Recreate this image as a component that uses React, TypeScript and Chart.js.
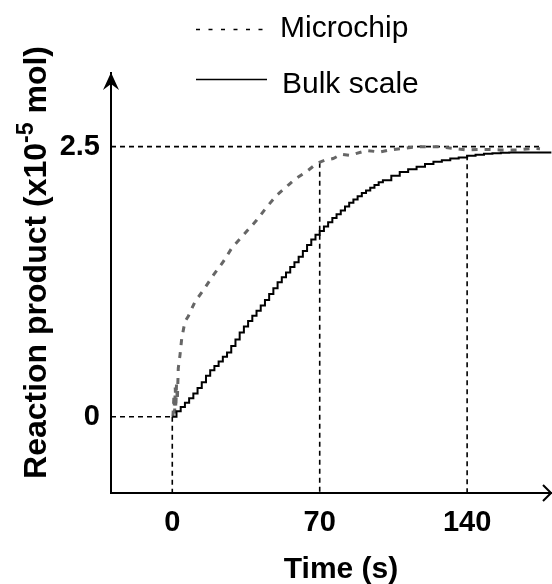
import { useEffect, useRef } from "react";
import { Chart, registerables } from "chart.js";

Chart.register(...registerables);

// ---------- data ----------
const SERIES_NAMES = ["Microchip", "Bulk scale"];
const X_TITLE = "Time (s)";
const Y_TITLE_MAIN = "Reaction product (x10";
const Y_TITLE_SUP = "-5";
const Y_TITLE_END = " mol)";

const X_TICKS = [0, 70, 140];
const X_TICK_LABELS = ["0", "70", "140"];
const Y_TICKS = [0, 2.5];
const Y_TICK_LABELS = ["0", "2.5"];

const X_MIN = -29.1;
const X_MAX = 180.3;
const Y_MIN = -0.7065;
const Y_MAX = 3.182;

// Bulk scale (solid staircase)
const bulkTime = [
  0, 2, 4, 6, 8, 10, 12, 14, 16, 18, 20, 22, 24, 26, 28, 30, 32, 34, 36, 38, 40,
  42, 44, 46, 48, 50, 52, 54, 56, 58, 60, 62, 64, 66, 68, 70, 72, 74, 76, 78, 80,
  82, 84, 86, 88, 90, 92, 94, 96, 98, 100,
  104, 108, 112, 116, 120, 124, 128, 132, 136, 140, 144, 148, 152, 156, 160,
  164, 168, 172, 176, 180,
];
const bulkValue = [
  0.0, 0.05, 0.09, 0.13, 0.17, 0.215, 0.265, 0.32, 0.38, 0.43, 0.47, 0.51, 0.555,
  0.595, 0.655, 0.715, 0.78, 0.835, 0.885, 0.935, 0.98, 1.03, 1.08, 1.135, 1.19,
  1.245, 1.29, 1.335, 1.385, 1.43, 1.48, 1.535, 1.59, 1.64, 1.685, 1.72, 1.76,
  1.8, 1.84, 1.875, 1.91, 1.945, 1.98, 2.01, 2.04, 2.07, 2.095, 2.12, 2.145,
  2.17, 2.19,
  2.23, 2.265, 2.29, 2.315, 2.34, 2.36, 2.375, 2.39, 2.4, 2.415, 2.425, 2.435,
  2.44, 2.443, 2.445, 2.445, 2.445, 2.445, 2.445, 2.445,
];

// Microchip (dashed, grey)
const microTime = [
  0.3, 0.8, 1.1, 1.4, 1.7, 2.0, 2.4, 2.85, 3.66, 4.46, 6.0, 7.6, 10.8, 14.7,
  19.5, 24.2, 28.2, 33.7, 40.1, 44.8, 49.6, 55.1, 58.3, 63.8, 68.6, 72.5, 76.4,
  80.4, 84.4, 92.3, 98.6, 103.3, 109.7, 117.6, 125.5, 133.4, 139.8, 147.7,
  155.6, 163.5, 171.4, 174.6,
];
const microValue = [
  0.0, 0.2, 0.03, 0.27, 0.08, 0.3, 0.15, 0.45, 0.57, 0.72, 0.88, 0.93, 1.065,
  1.17, 1.31, 1.435, 1.56, 1.68, 1.82, 1.94, 2.05, 2.145, 2.2, 2.27, 2.345,
  2.375, 2.39, 2.43, 2.42, 2.465, 2.45, 2.47, 2.485, 2.5, 2.5, 2.485, 2.47,
  2.475, 2.47, 2.47, 2.485, 2.48,
];

// Dashed guide lines
const PLATEAU = 2.5;
const PLATEAU_END = 175;
const guideTimes = [0, 70, 140];
const guideTops = [0, 2.35, 2.42];

// ---------- styling ----------
const FONT = "'Liberation Sans', Arial, Helvetica, sans-serif";

const decorPlugin = {
  id: "decor",
  afterDraw(chart: any) {
    const { ctx, chartArea: a } = chart;
    ctx.save();
    ctx.fillStyle = "#000";
    ctx.strokeStyle = "#000";

    // y-axis arrow head (filled, barbed)
    ctx.beginPath();
    ctx.moveTo(a.left, a.top - 0.5);
    ctx.lineTo(a.left + 8, a.top + 17);
    ctx.lineTo(a.left, a.top + 11);
    ctx.lineTo(a.left - 8, a.top + 17);
    ctx.closePath();
    ctx.fill();

    // x-axis arrow head (open chevron)
    ctx.lineWidth = 2;
    ctx.beginPath();
    ctx.moveTo(a.right - 9, a.bottom - 8);
    ctx.lineTo(a.right - 1, a.bottom);
    ctx.lineTo(a.right - 9, a.bottom + 8);
    ctx.stroke();

    // y title with superscript
    const mainFont = `bold 32px ${FONT}`;
    const supFont = `bold 23px ${FONT}`;
    ctx.font = mainFont;
    const w1 = ctx.measureText(Y_TITLE_MAIN).width;
    const w3 = ctx.measureText(Y_TITLE_END).width;
    ctx.font = supFont;
    const w2 = ctx.measureText(Y_TITLE_SUP).width;
    const total = w1 + w2 + w3;
    ctx.save();
    ctx.translate(a.left - 65, (a.top + a.bottom) / 2 - 20.5);
    ctx.rotate(-Math.PI / 2);
    ctx.textAlign = "left";
    ctx.textBaseline = "alphabetic";
    const s = -total / 2;
    ctx.font = mainFont;
    ctx.fillText(Y_TITLE_MAIN, s, 0);
    ctx.font = supFont;
    ctx.fillText(Y_TITLE_SUP, s + w1, -13);
    ctx.font = mainFont;
    ctx.fillText(Y_TITLE_END, s + w1 + w2, 0);
    ctx.restore();

    // x title
    ctx.font = `bold 30px ${FONT}`;
    ctx.textAlign = "center";
    ctx.textBaseline = "alphabetic";
    ctx.fillText(X_TITLE, (a.left + a.right) / 2 + 9.5, a.bottom + 85);

    // legend
    ctx.textAlign = "left";
    ctx.font = `30px ${FONT}`;
    ctx.lineWidth = 1.3;
    ctx.setLineDash([4, 8.5]);
    ctx.beginPath();
    ctx.moveTo(196, 29.5);
    ctx.lineTo(266, 29.5);
    ctx.stroke();
    ctx.setLineDash([]);
    ctx.fillText(SERIES_NAMES[0], 280, 37);
    ctx.beginPath();
    ctx.moveTo(196, 79.5);
    ctx.lineTo(267, 79.5);
    ctx.stroke();
    ctx.fillText(SERIES_NAMES[1], 282, 93);

    ctx.restore();
  },
};

export default function App() {
  const ref = useRef<HTMLCanvasElement | null>(null);

  useEffect(() => {
    if (!ref.current) return;

    const guideStyle = {
      borderColor: "#000",
      borderWidth: 1.6,
      borderDash: [5, 4],
      pointRadius: 0,
      fill: false,
      tension: 0,
      order: 5,
    };

    const datasets: any[] = [
      {
        label: SERIES_NAMES[1],
        data: bulkTime.map((t, i) => ({ x: t, y: bulkValue[i] })),
        borderColor: "#000",
        borderWidth: 2,
        pointRadius: 0,
        stepped: true,
        fill: false,
        order: 1,
      },
      {
        label: SERIES_NAMES[0],
        data: microTime.map((t, i) => ({ x: t, y: microValue[i] })),
        borderColor: "#666666",
        borderWidth: 3,
        borderDash: [6, 7],
        pointRadius: 0,
        fill: false,
        tension: 0,
        order: 2,
      },
      {
        label: "plateau",
        data: [
          { x: X_MIN, y: PLATEAU },
          { x: PLATEAU_END, y: PLATEAU },
        ],
        ...guideStyle,
      },
      {
        label: "zero",
        data: [
          { x: X_MIN, y: 0 },
          { x: 0, y: 0 },
        ],
        ...guideStyle,
      },
      ...guideTimes.map((t, i) => ({
        label: "guide" + t,
        data: [
          { x: t, y: guideTops[i] },
          { x: t, y: Y_MIN },
        ],
        ...guideStyle,
      })),
    ];

    const chart = new Chart(ref.current, {
      type: "line",
      data: { datasets },
      plugins: [decorPlugin],
      options: {
        animation: false,
        responsive: false,
        devicePixelRatio: 1,
        layout: { padding: { top: 73, left: 0, right: 0, bottom: 0 } },
        plugins: {
          legend: { display: false },
          tooltip: { enabled: false },
        },
        scales: {
          x: {
            type: "linear",
            min: X_MIN,
            max: X_MAX,
            afterFit: (scale: any) => {
              scale.height = 91;
            },
            afterBuildTicks: (scale: any) => {
              scale.ticks = X_TICKS.map((v) => ({ value: v }));
            },
            grid: { display: false, drawTicks: false },
            border: { display: true, color: "#000", width: 2 },
            ticks: {
              padding: 13,
              color: "#000",
              font: { family: FONT, size: 29, weight: "bold" },
              maxRotation: 0,
              autoSkip: false,
              callback: (v: any) => {
                const i = X_TICKS.indexOf(Number(v));
                return i >= 0 ? X_TICK_LABELS[i] : "";
              },
            },
          },
          y: {
            type: "linear",
            min: Y_MIN,
            max: Y_MAX,
            afterFit: (scale: any) => {
              scale.width = 111;
            },
            afterBuildTicks: (scale: any) => {
              scale.ticks = Y_TICKS.map((v) => ({ value: v }));
            },
            grid: { display: false, drawTicks: false },
            border: { display: true, color: "#000", width: 2 },
            ticks: {
              padding: 11,
              color: "#000",
              font: { family: FONT, size: 29, weight: "bold" },
              autoSkip: false,
              callback: (v: any) => {
                const i = Y_TICKS.indexOf(Number(v));
                return i >= 0 ? Y_TICK_LABELS[i] : "";
              },
            },
          },
        },
      } as any,
    });

    return () => chart.destroy();
  }, []);

  return (
    <div
      style={{
        position: "fixed",
        left: 0,
        top: 0,
        width: 552,
        height: 584,
        background: "#fff",
      }}
    >
      <canvas ref={ref} width={552} height={584} />
    </div>
  );
}
